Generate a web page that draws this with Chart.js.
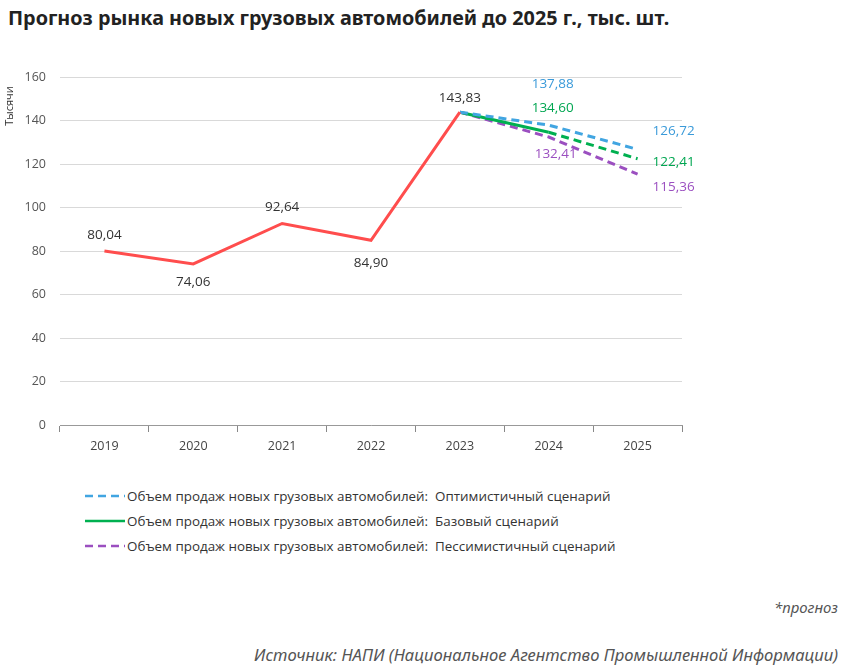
<!DOCTYPE html>
<html lang="ru">
<head>
  <meta charset="UTF-8" />
  <title>Прогноз рынка новых грузовых автомобилей</title>
  <script src="https://cdn.jsdelivr.net/npm/chart.js"></script>
  <style>
    body { margin: 0; background: #fff; width: 850px; height: 670px; position: relative; overflow: hidden; font-family: 'Open Sans', sans-serif; }
    h1 { position: absolute; left: 8px; top: 4px; margin: 0; font: bold 19.8px 'Noto Sans', sans-serif; color: #222; white-space: nowrap; }
    #wrap { position: absolute; left: 0; top: 0; width: 850px; height: 470px; }
    .legend { position: absolute; left: 85px; top: 483px; font-size: 13.4px; color: #333; }
    .legend div { height: 25px; display: flex; align-items: center; }
    .legend svg { width: 40px; height: 6px; margin-right: 2px; }
    .note { position: absolute; right: 12px; font: italic 15px 'Noto Sans', sans-serif; color: #555; white-space: nowrap; }
  </style>
</head>
<body>
  <h1>Прогноз рынка новых грузовых автомобилей до 2025 г., тыс. шт.</h1>
  <div id="wrap"><canvas id="chart"></canvas></div>
  <div class="legend">
    <div><svg><line x1="0" y1="3" x2="40" y2="3" stroke="#41a5e1" stroke-width="2.5" stroke-dasharray="8,5"/></svg>Объем продаж новых грузовых автомобилей:&nbsp; Оптимистичный сценарий</div>
    <div><svg><line x1="0" y1="3" x2="40" y2="3" stroke="#00b050" stroke-width="2.5"/></svg>Объем продаж новых грузовых автомобилей:&nbsp; Базовый сценарий</div>
    <div><svg><line x1="0" y1="3" x2="40" y2="3" stroke="#9b4fc0" stroke-width="2.5" stroke-dasharray="8,5"/></svg>Объем продаж новых грузовых автомобилей:&nbsp; Пессимистичный сценарий</div>
  </div>
  <div class="note" style="top:597px">*прогноз</div>
  <div class="note" style="top:643px; font-size:16.6px">Источник: НАПИ (Национальное Агентство Промышленной Информации)</div>

  <script>
    const years = ['2019', '2020', '2021', '2022', '2023', '2024', '2025'];
    const fact = [80.04, 74.06, 92.64, 84.90, 143.83, null, null];
    const optimistic = [null, null, null, null, 143.83, 137.88, 126.72];
    const base = [null, null, null, null, 143.83, 134.60, 122.41];
    const pessimistic = [null, null, null, null, 143.83, 132.41, 115.36];
    const yTicks = [0, 20, 40, 60, 80, 100, 120, 140, 160];

    // where each value label sits relative to its point: [dx, dy, align]
    const labelPlace = {
      0: [[0, -16, 'center'], [0, 18, 'center'], [0, -16, 'center'], [0, 23, 'center'], [0, -14, 'center']],
      1: [null, null, null, null, null, [4, -41, 'center'], [15, -18, 'left']],
      2: [null, null, null, null, null, [4, -24, 'center'], [15, 3, 'left']],
      3: [null, null, null, null, null, [7, 17, 'center'], [15, 13, 'left']]
    };
    const labelColor = ['#333', '#3a9ad9', '#00a651', '#9b4fc0'];

    const valueLabels = {
      id: 'valueLabels',
      afterDatasetsDraw(chart) {
        const ctx = chart.ctx;
        ctx.save();
        ctx.font = '13.5px "Open Sans", sans-serif';
        ctx.textBaseline = 'middle';
        chart.data.datasets.forEach((ds, di) => {
          const meta = chart.getDatasetMeta(di);
          ds.data.forEach((v, i) => {
            const p = labelPlace[di][i];
            if (v == null || !p) return;
            const el = meta.data[i];
            ctx.fillStyle = labelColor[di];
            ctx.textAlign = p[2];
            ctx.fillText(v.toFixed(2).replace('.', ','), el.x + p[0], el.y + p[1]);
          });
        });
        // axis title, rotated, near the top of the value axis
        ctx.translate(10, chart.chartArea.top + 29);
        ctx.rotate(-Math.PI / 2);
        ctx.font = '11px "Open Sans", sans-serif';
        ctx.fillStyle = '#333';
        ctx.textAlign = 'center';
        ctx.fillText('Тысячи', 0, 0);
        ctx.restore();
      }
    };

    const ctx = document.getElementById('chart').getContext('2d');
    new Chart(ctx, {
      type: 'line',
      data: {
        labels: years,
        datasets: [
          { label: 'Факт', data: fact, borderColor: '#ff4d4d', borderWidth: 3, pointRadius: 0 },
          { label: 'Оптимистичный сценарий', data: optimistic, borderColor: '#41a5e1', borderWidth: 3, borderDash: [8, 5], pointRadius: 0 },
          { label: 'Базовый сценарий', data: base, borderColor: '#00b050', borderWidth: 3, pointRadius: 0,
            segment: { borderDash: c => c.p0DataIndex >= 5 ? [8, 5] : [] } },
          { label: 'Пессимистичный сценарий', data: pessimistic, borderColor: '#9b4fc0', borderWidth: 3, borderDash: [8, 5], pointRadius: 0 }
        ]
      },
      options: {
        responsive: true,
        maintainAspectRatio: false,
        animation: false,
        layout: { padding: { top: 77, right: 168, bottom: 0, left: 0 } },
        plugins: { legend: { display: false }, tooltip: { enabled: false } },
        scales: {
          x: {
            offset: true,
            grid: { offset: true, drawOnChartArea: false, drawTicks: true, tickLength: 7, color: '#888' },
            border: { display: true, color: '#999' },
            ticks: { color: '#444', font: { size: 12.5, family: 'Open Sans' }, padding: 7 },
            afterFit(s) { s.height = 45; }
          },
          y: {
            min: 0, max: 160,
            afterBuildTicks(s) { s.ticks = yTicks.map(v => ({ value: v })); },
            grid: { color: '#d9d9d9', drawTicks: false },
            border: { display: false },
            ticks: { color: '#555', font: { size: 12.5, family: 'Open Sans' }, padding: 14 },
            afterFit(s) { s.width = 60; }
          }
        }
      },
      plugins: [valueLabels]
    });
  </script>
</body>
</html>
